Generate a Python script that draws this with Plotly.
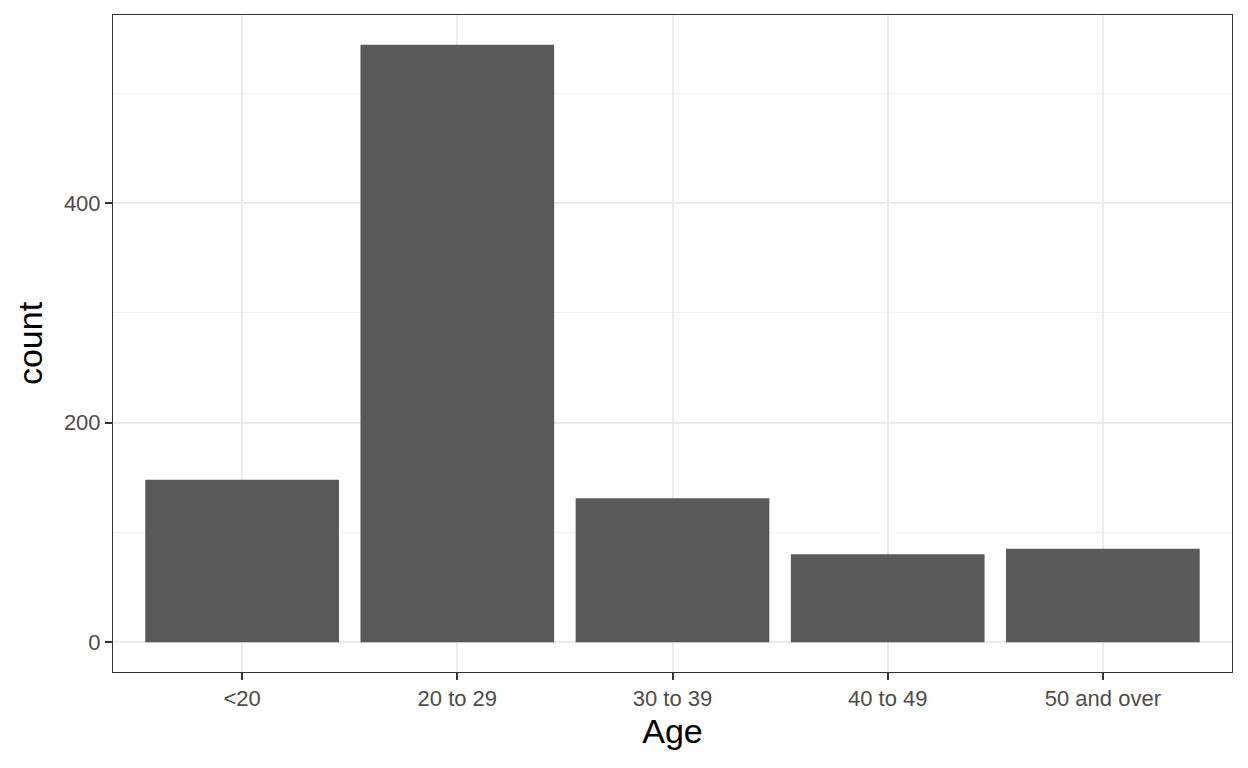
import plotly.graph_objects as go

categories = ["<20", "20 to 29", "30 to 39", "40 to 49", "50 and over"]
counts = [148, 544, 131, 80, 85]

fig = go.Figure()
fig.add_trace(go.Bar(
    x=categories, y=counts, width=0.9,
    marker=dict(color="#595959", line=dict(width=0)),
))

ymax = max(counts)
fig.update_layout(
    width=1240, height=760,
    margin=dict(l=105, r=16, t=7, b=96),
    paper_bgcolor="white", plot_bgcolor="white",
    font=dict(family="Liberation Sans, Arial, sans-serif"),
    showlegend=False,
    bargap=0.1,
)
fig.update_xaxes(
    range=[-0.6, 4.6],
    showgrid=True, gridcolor="#EBEBEB", gridwidth=2,
    showline=True, mirror=True, linecolor="#333333", linewidth=1,
    ticks="outside", ticklen=7, tickwidth=2, tickcolor="#333333",
    tickfont=dict(size=22, color="#4D4D4D"),
    title=dict(text="Age", font=dict(size=34, color="black"), standoff=8),
    zeroline=False,
)
fig.update_yaxes(
    range=[-0.05 * ymax, 1.05 * ymax],
    tick0=0, dtick=200,
    showgrid=True, gridcolor="#EBEBEB", gridwidth=2,
    minor=dict(dtick=100, showgrid=True, gridcolor="#F2F2F2", gridwidth=1),
    showline=True, mirror=True, linecolor="#333333", linewidth=1,
    ticks="outside", ticklen=7, tickwidth=2, tickcolor="#333333",
    tickfont=dict(size=22, color="#4D4D4D"),
    title=dict(text="count", font=dict(size=34, color="black"), standoff=10),
    zeroline=False,
)

fig.write_html("out.html")
